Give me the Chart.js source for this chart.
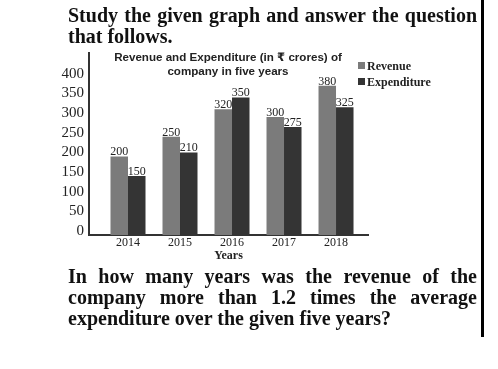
<!DOCTYPE html>
<html>
<head>
<meta charset="utf-8">
<script src="https://cdn.jsdelivr.net/npm/chart.js@4/dist/chart.umd.min.js"></script>
<style>
  html, body { margin: 0; padding: 0; background: #fff; }
  #page { position: relative; width: 498px; height: 369px; overflow: hidden; background: #fff; }
  #c { position: absolute; left: 0; top: 0; }
  .q { position: absolute; left: 68px; width: 409px; font: bold 20px "Liberation Serif", "Times New Roman", serif; line-height: 21px; color: #111; }
  .q .j { text-align: justify; text-align-last: justify; white-space: nowrap; }
  .q .l { text-align: left; white-space: nowrap; }
  #title { position: absolute; left: 98px; top: 50px; width: 260px; text-align: center; font: bold 11.6px "Liberation Sans", Arial, "DejaVu Sans", sans-serif; line-height: 14px; color: #222; }
  #legend { position: absolute; left: 358px; top: 58px; font: bold 12px "Liberation Serif", "Times New Roman", serif; color: #222; }
  #legend .item { position: relative; height: 16px; line-height: 16px; padding-left: 9px; white-space: nowrap; }
  #legend .sw { position: absolute; left: 0; top: 4px; width: 7px; height: 7px; }
  #rule { position: absolute; left: 481px; top: 0; width: 3px; height: 337px; background: #000; }
</style>
</head>
<body>
<div id="page">
  <canvas id="c" width="498" height="369"></canvas>
  <div class="q" style="top:5px">
    <div class="j">Study the given graph and answer the question</div>
    <div class="l">that follows.</div>
  </div>
  <div id="title">Revenue and Expenditure (in ₹ crores) of<br>company in five years</div>
  <div id="legend"></div>
  <div class="q" style="top:266px">
    <div class="j">In how many years was the revenue of the</div>
    <div class="j">company more than 1.2 times the average</div>
    <div class="l">expenditure over the given five years?</div>
  </div>
  <div id="rule"></div>
</div>
<script>
const categories = ["2014", "2015", "2016", "2017", "2018"];
const revenue = [200, 250, 320, 300, 380];
const expenditure = [150, 210, 350, 275, 325];
const yTicks = [0, 50, 100, 150, 200, 250, 300, 350, 400];

const seriesNames = ["Revenue", "Expenditure"];
const seriesColors = ["#7b7b7b", "#343434"];

const toPoints = arr => arr.map((v, i) => ({ x: i, y: v }));

const valueLabels = {
  id: 'valueLabels',
  afterDatasetsDraw(chart) {
    const ctx = chart.ctx;
    ctx.save();
    ctx.font = '12px "Liberation Serif", "Times New Roman", serif';
    ctx.fillStyle = '#222';
    ctx.textAlign = 'center';
    ctx.textBaseline = 'alphabetic';
    chart.data.datasets.forEach((ds, di) => {
      const meta = chart.getDatasetMeta(di);
      meta.data.forEach((bar, i) => {
        ctx.fillText(String(ds.data[i].y), bar.x, bar.y - 1);
      });
    });
    ctx.restore();
  }
};

const chart = new Chart(document.getElementById('c'), {
  type: 'bar',
  data: {
    datasets: [
      { label: seriesNames[0], data: toPoints(revenue), backgroundColor: seriesColors[0] },
      { label: seriesNames[1], data: toPoints(expenditure), backgroundColor: seriesColors[1] }
    ]
  },
  options: {
    responsive: false,
    animation: false,
    devicePixelRatio: 1,
    categoryPercentage: 0.673,
    barPercentage: 1,
    layout: { padding: { left: 0, top: 53, right: 130, bottom: 106 } },
    plugins: { legend: { display: false }, tooltip: { enabled: false }, title: { display: false } },
    scales: {
      x: {
        type: 'linear',
        offset: false,
        min: -0.75,
        max: 4.615,
        grid: { display: false, drawTicks: false, offset: false },
        border: { display: true, color: '#333', width: 2 },
        ticks: {
          stepSize: 1,
          includeBounds: false,
          autoSkip: false,
          padding: 1,
          color: '#222',
          font: { family: '"Liberation Serif", "Times New Roman", serif', size: 12 },
          callback: v => (Number.isInteger(v) && categories[v] !== undefined) ? categories[v] : ''
        },
        title: {
          display: true, text: 'Years', color: '#222', padding: 0,
          font: { family: '"Liberation Serif", "Times New Roman", serif', size: 12, weight: 'bold' }
        },
        afterFit: s => { s.height = 28; }
      },
      y: {
        min: 0,
        max: 463,
        grid: { display: false, drawTicks: false },
        border: { display: true, color: '#333', width: 2 },
        ticks: {
          stepSize: 50,
          includeBounds: false,
          autoSkip: false,
          padding: 5,
          labelOffset: -4,
          color: '#222',
          font: { family: '"Liberation Serif", "Times New Roman", serif', size: 15 },
          callback: v => yTicks.includes(v) ? String(v) : ''
        },
        afterFit: s => { s.width = 89; }
      }
    }
  },
  plugins: [valueLabels]
});

const legend = document.getElementById('legend');
chart.data.datasets.forEach(ds => {
  const item = document.createElement('div');
  item.className = 'item';
  const sw = document.createElement('span');
  sw.className = 'sw';
  sw.style.background = ds.backgroundColor;
  item.appendChild(sw);
  item.appendChild(document.createTextNode(ds.label));
  legend.appendChild(item);
});
</script>
</body>
</html>
